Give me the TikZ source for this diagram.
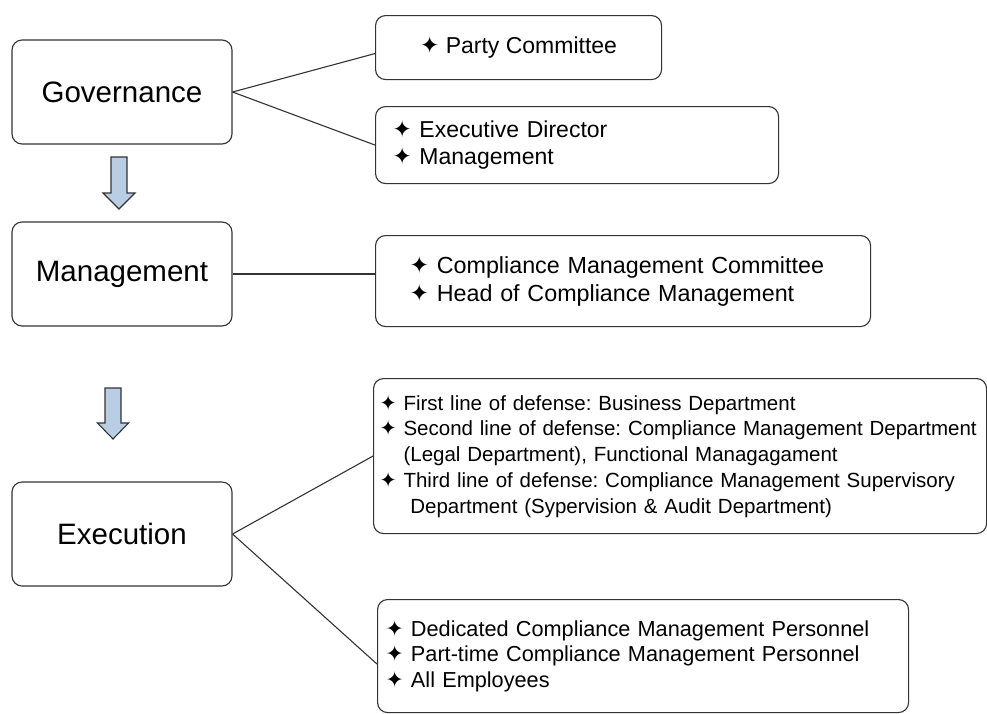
\documentclass[tikz,border=0pt]{standalone}
\usepackage{fontspec}
\setmainfont{Liberation Sans}
\newfontfamily\symfont{DejaVu Sans}
\newcommand{\itm}{{\symfont\char"2726}\ }
\newcommand{\ind}{\phantom{\itm}}
\definecolor{arrowblue}{HTML}{B9CDE5}
\definecolor{linegray}{HTML}{333333}
\frenchspacing
\hyphenpenalty=10000
\exhyphenpenalty=10000
\tikzset{
  box/.style={draw=linegray, line width=1.1pt, rounded corners=10pt, fill=white},
  mainbox/.style={box, minimum width=220pt, minimum height=104pt, inner sep=0pt, font=\fontsize{29.5}{34}\selectfont},
  itembox/.style={box, anchor=north west, align=left, inner ysep=0pt},
  conn/.style={draw=linegray, line width=1.1pt},
  blockarrow/.style={draw=linegray, line width=1.1pt, fill=arrowblue, line join=miter}
}
\begin{document}
\begin{tikzpicture}[x=1pt,y=-1pt]
\useasboundingbox[fill=white] (0,0) rectangle (987,713);

\node[mainbox] (gov) at (122,92) {Governance};
\node[mainbox] (mgmt) at (122,274) {Management};
\node[mainbox] (exe) at (122,534) {Execution};

\node[box, anchor=north west, minimum width=286pt, minimum height=64pt, inner sep=0pt,
      font=\fontsize{23}{27}\selectfont] (party) at (375,15) {\itm Party Committee};
\node[itembox, minimum height=77pt, inner xsep=17pt, text width=369pt,
      font=\fontsize{23}{27}\selectfont] (execd) at (375,106)
      {\itm Executive Director\\\itm Management};
\node[itembox, minimum height=91pt, inner xsep=34pt, text width=427pt,
      font=\fontsize{23.3}{28}\selectfont] (comp) at (375,235)
      {\itm Compliance Management Committee\\\itm Head of Compliance Management};
\node[itembox, minimum height=155pt, inner xsep=6pt, text width=601pt,
      font=\fontsize{20.5}{25.75}\selectfont] (def) at (373,378)
      {\itm First line of defense: Business Department\\
       \itm Second line of defense: Compliance Management Department\\
       \ind(Legal Department), Functional Managagament\\
       \itm Third line of defense: Compliance Management Supervisory\\
       \ind\ Department (Sypervision \& Audit Department)};
\node[itembox, minimum height=113pt, inner xsep=8pt, text width=515pt,
      font=\fontsize{21.7}{25.5}\selectfont] (pers) at (377,599)
      {\itm Dedicated Compliance Management Personnel\\
       \itm Part-time Compliance Management Personnel\\
       \itm All Employees};

\draw[conn] (gov.east) -- ([yshift=-6pt]party.west);
\draw[conn] (gov.east) -- (execd.west);
\draw[conn] (mgmt.east) -- (mgmt.east -| comp.west);
\draw[conn] (exe.east) -- (def.west);
\draw[conn] (exe.east) -- ([yshift=-8pt]pers.west);

\draw[blockarrow] (111,157) -- (127,157) -- (127,193) -- (135,193) -- (119,209) -- (103,193) -- (111,193) -- cycle;
\draw[blockarrow] (105,388) -- (121,388) -- (121,423) -- (128.5,423) -- (113,439) -- (97.5,423) -- (105,423) -- cycle;
\end{tikzpicture}
\end{document}
